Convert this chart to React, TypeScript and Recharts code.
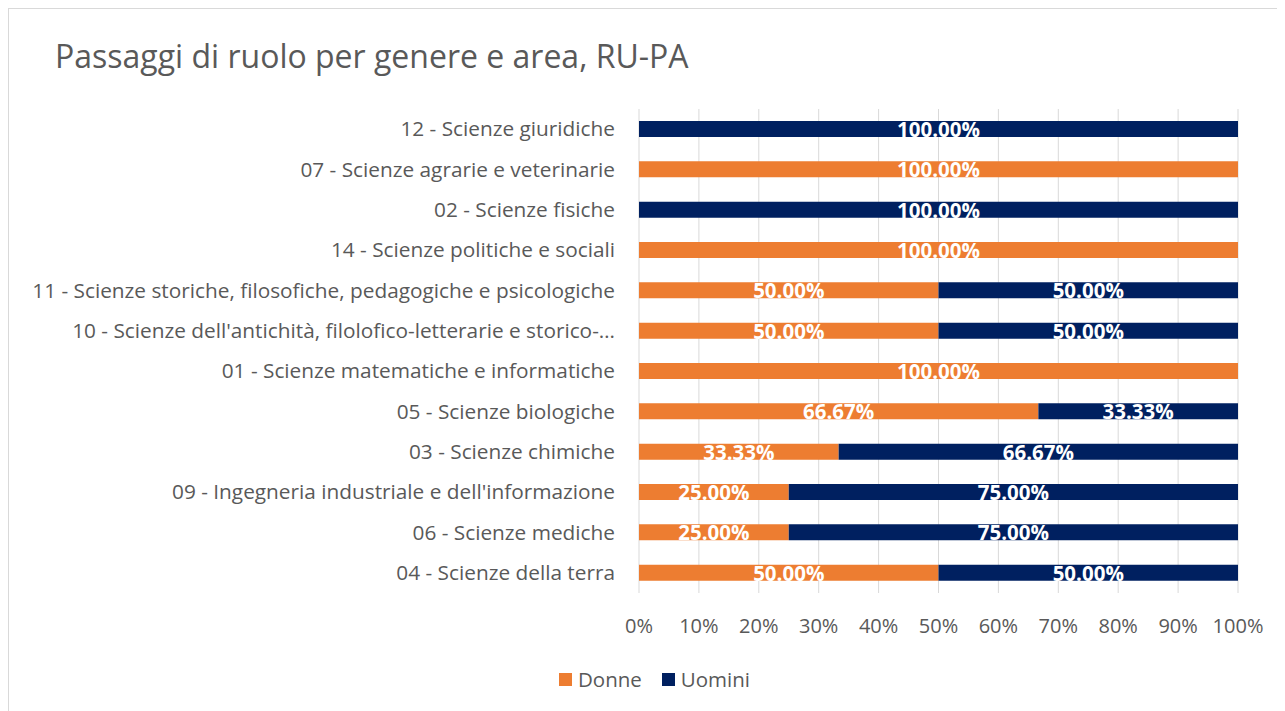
import React from "react";
import { BarChart, Bar, XAxis, YAxis, CartesianGrid, Legend, LabelList } from "recharts";

const categories = [
  "12 - Scienze giuridiche",
  "07 - Scienze agrarie e veterinarie",
  "02 - Scienze fisiche",
  "14 - Scienze politiche e sociali",
  "11 - Scienze storiche, filosofiche, pedagogiche e psicologiche",
  "10 - Scienze dell'antichità, filolofico-letterarie e storico-…",
  "01 - Scienze matematiche e informatiche",
  "05 - Scienze biologiche",
  "03 - Scienze chimiche",
  "09 - Ingegneria industriale e dell'informazione",
  "06 - Scienze mediche",
  "04 - Scienze della terra",
];
const donne = [0, 100, 0, 100, 50, 50, 100, 66.67, 33.33, 25, 25, 50];
const uomini = [100, 0, 100, 0, 50, 50, 0, 33.33, 66.67, 75, 75, 50];
const xTicks = [0, 10, 20, 30, 40, 50, 60, 70, 80, 90, 100];

const data = categories.map((c, i) => ({ name: c, Donne: donne[i], Uomini: uomini[i] }));

const ORANGE = "#ED7D31";
const NAVY = "#002060";
const FONT = "'Open Sans', sans-serif";

const renderLabel = (props: any) => {
  const { x, y, width, height, value } = props;
  if (!value) return null;
  return (
    <text
      x={Number(x) + Number(width) / 2}
      y={Number(y) + Number(height) / 2 + 8}
      textAnchor="middle"
      fill="#fff"
      fontWeight="bold"
      fontSize={20.5}
      fontFamily={FONT}
    >
      {Number(value).toFixed(2)}%
    </text>
  );
};

const YTick = (props: any) => {
  const { x, y, payload } = props;
  return (
    <text x={x - 16} y={y + 7} textAnchor="end" fill="#595959" fontSize={20.8} fontFamily={FONT}>
      {payload.value}
    </text>
  );
};

const LegendContent = () => (
  <div style={{ display: "flex", justifyContent: "center", fontFamily: FONT, fontSize: 20.5, lineHeight: "30px", color: "#595959", paddingLeft: 82 }}>
    {[{ n: "Donne", c: ORANGE }, { n: "Uomini", c: NAVY }].map((it) => (
      <span key={it.n} style={{ display: "inline-flex", alignItems: "center", marginRight: 20 }}>
        <span style={{ width: 13, height: 13, background: it.c, display: "inline-block", marginRight: 6 }} />
        {it.n}
      </span>
    ))}
  </div>
);

export default function App() {
  return (
    <div style={{ position: "relative", width: 1277, height: 703, borderTop: "1px solid #d9d9d9", borderLeft: "1px solid #d9d9d9", background: "#fff" }}>
      <div style={{ position: "absolute", left: 46, top: 25, fontFamily: FONT, fontSize: 32, color: "#595959", whiteSpace: "nowrap" }}>
        Passaggi di ruolo per genere e area, RU-PA
      </div>
      <BarChart
        width={1276}
        height={702}
        data={data}
        layout="vertical"
        margin={{ top: 100, right: 47, bottom: 0, left: 0 }}
        barSize={16}
      >
        <CartesianGrid horizontal={false} stroke="#d9d9d9" />
        <XAxis
          type="number"
          domain={[0, 100]}
          ticks={xTicks}
          tickFormatter={(v: number) => `${v}%`}
          axisLine={false}
          tickLine={false}
          tick={{ fill: "#595959", fontSize: 20, fontFamily: FONT }}
          tickMargin={20}
          height={50}
        />
        <YAxis
          type="category"
          dataKey="name"
          width={630}
          axisLine={false}
          tickLine={false}
          tick={<YTick />}
          interval={0}
        />
        <Legend verticalAlign="bottom" content={<LegendContent />} wrapperStyle={{ paddingTop: 21, paddingBottom: 17 }} />
        <Bar dataKey="Donne" stackId="a" fill={ORANGE} isAnimationActive={false}>
          <LabelList dataKey="Donne" content={renderLabel} />
        </Bar>
        <Bar dataKey="Uomini" stackId="a" fill={NAVY} isAnimationActive={false}>
          <LabelList dataKey="Uomini" content={renderLabel} />
        </Bar>
      </BarChart>
    </div>
  );
}
